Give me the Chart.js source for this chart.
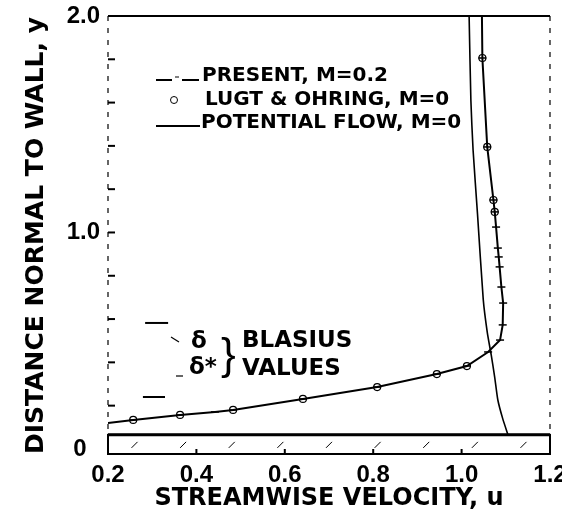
<!DOCTYPE html>
<html>
<head>
<meta charset="utf-8">
<script src="https://cdn.jsdelivr.net/npm/chart.js@4.4.0/dist/chart.umd.min.js"></script>
<style>
  html, body { margin: 0; padding: 0; background: #fff; }
  #wrap { width: 562px; height: 516px; }
</style>
</head>
<body>
<div id="wrap"><canvas id="chart" width="562" height="516"></canvas></div>
<script>
// Present computation, M=0.2 (from the wall side up)
const presentU = [0.2, 0.257, 0.363, 0.442, 0.483, 0.641, 0.809, 0.944, 1.012, 1.06, 1.087, 1.093,
                  1.094, 1.09, 1.086, 1.084, 1.082, 1.078, 1.075, 1.072, 1.058, 1.047, 1.046];
const presentY = [0.12, 0.134, 0.157, 0.171, 0.18, 0.231, 0.286, 0.346, 0.383, 0.448, 0.503, 0.573,
                  0.674, 0.748, 0.841, 0.887, 0.928, 1.025, 1.095, 1.15, 1.395, 1.806, 2.0];

// Lugt & Ohring, M=0
const lugtU = [0.257, 0.363, 0.483, 0.641, 0.809, 0.944, 1.012, 1.075, 1.072, 1.058, 1.047];
const lugtY = [0.134, 0.157, 0.18, 0.231, 0.286, 0.346, 0.383, 1.095, 1.15, 1.395, 1.806];

// Potential flow, M=0
const potentialU = [1.017, 1.021, 1.026, 1.036, 1.049, 1.058, 1.067, 1.075, 1.082, 1.093, 1.105];
const potentialY = [2.0, 1.61, 1.38, 1.085, 0.69, 0.54, 0.434, 0.33, 0.226, 0.14, 0.065];

// Blasius values (delta and delta*)
const blasiusDeltaU = [0.284, 0.336];
const blasiusDelta = 0.582;
const blasiusStarU = [0.279, 0.329];
const blasiusDeltaStar = 0.24;

// wall surface
const wallY = 0.065;

const xTicks = [0.2, 0.4, 0.6, 0.8, 1.0, 1.2];
const yTicks = [0, 0.2, 0.4, 0.6, 0.8, 1.0, 1.2, 1.4, 1.6, 1.8, 2.0];
const yLabelled = [0, 1.0, 2.0];

function pts(us, ys) {
  return us.map((u, i) => ({ x: u, y: ys[i] }));
}

function line(ctx, x1, y1, x2, y2) {
  ctx.beginPath();
  ctx.moveTo(x1, y1);
  ctx.lineTo(x2, y2);
  ctx.stroke();
}

// frame, wall block, inward ticks, legend and the Blasius note
const decor = {
  id: 'decor',
  afterDatasetsDraw(chart) {
    const { ctx, chartArea: a, scales: { x, y } } = chart;
    const yWall = y.getPixelForValue(wallY);
    const yTop = y.getPixelForValue(2.0);
    ctx.save();
    ctx.strokeStyle = '#000';
    ctx.fillStyle = '#000';

    ctx.lineWidth = 2;
    line(ctx, a.left, yTop, a.right, yTop);

    ctx.lineWidth = 1.2;
    ctx.setLineDash([5, 7]);
    line(ctx, a.left, yTop, a.left, yWall);
    line(ctx, a.right, yTop, a.right, yWall);
    ctx.setLineDash([]);

    ctx.lineWidth = 2;
    ctx.strokeRect(a.left, yWall, a.right - a.left, a.bottom - 1 - yWall);

    // hatch marks under the wall
    ctx.lineWidth = 1;
    for (let u = 0.26; u < 1.2; u += 0.11) {
      const px = x.getPixelForValue(u);
      line(ctx, px - 3, yWall + 13, px + 3, yWall + 7);
    }

    // inward ticks
    ctx.lineWidth = 2;
    yTicks.forEach(v => {
      if (v <= wallY || v >= 2.0) return;
      const py = y.getPixelForValue(v);
      line(ctx, a.left, py, a.left + 7, py);
    });
    xTicks.slice(1, -1).forEach(v => {
      const px = x.getPixelForValue(v);
      line(ctx, px, a.bottom - 1, px, a.bottom - 6);
    });

    // legend
    ctx.font = 'bold 20px "DejaVu Sans"';
    ctx.textBaseline = 'middle';
    ctx.textAlign = 'left';
    ctx.lineWidth = 2;
    line(ctx, 156, 80, 172, 80);
    line(ctx, 182, 80, 199, 80);
    ctx.lineWidth = 1;
    line(ctx, 175, 77, 179, 77);
    ctx.fillText('PRESENT, M=0.2', 202, 76);
    ctx.beginPath();
    ctx.arc(174, 100, 3.5, 0, Math.PI * 2);
    ctx.stroke();
    ctx.fillText('LUGT & OHRING, M=0', 205, 100);
    ctx.lineWidth = 2;
    line(ctx, 156, 126, 200, 126);
    ctx.fillText('POTENTIAL FLOW, M=0', 201, 123);

    // Blasius note
    ctx.lineWidth = 1.2;
    line(ctx, 171, 337, 179, 342);
    line(ctx, 176, 376, 183, 376);
    ctx.font = 'bold 23px "DejaVu Sans"';
    ctx.fillText('\u03b4', 191, 342);
    ctx.fillText('\u03b4*', 189, 368);
    ctx.font = '44px "Liberation Sans"';
    ctx.fillText('}', 221, 357);
    ctx.font = 'bold 23px "DejaVu Sans"';
    ctx.fillText('BLASIUS', 242, 341);
    ctx.fillText('VALUES', 242, 369);
    ctx.restore();
  }
};

new Chart(document.getElementById('chart'), {
  type: 'scatter',
  data: {
    datasets: [
      {
        label: 'POTENTIAL FLOW, M=0',
        data: pts(potentialU, potentialY),
        showLine: true,
        borderColor: '#000',
        borderWidth: 1.6,
        pointRadius: 0,
        tension: 0.2
      },
      {
        label: 'PRESENT, M=0.2',
        data: pts(presentU, presentY),
        showLine: true,
        borderColor: '#000',
        backgroundColor: '#000',
        borderWidth: 2,
        pointStyle: 'line',
        pointRadius: presentU.map((u, i) => (i === 0 || i === presentU.length - 1) ? 0 : 4),
        pointBorderWidth: 1.5
      },
      {
        label: 'LUGT & OHRING, M=0',
        data: pts(lugtU, lugtY),
        showLine: false,
        pointStyle: 'circle',
        pointRadius: 3.5,
        pointBackgroundColor: '#fff',
        pointBorderColor: '#000',
        pointBorderWidth: 1.2
      },
      {
        label: 'wall',
        data: pts([0.2, 1.2], [wallY, wallY]),
        showLine: true,
        borderColor: '#000',
        borderWidth: 3,
        pointRadius: 0
      },
      {
        label: 'delta',
        data: pts(blasiusDeltaU, [blasiusDelta, blasiusDelta]),
        showLine: true,
        borderColor: '#000',
        borderWidth: 2,
        pointRadius: 0
      },
      {
        label: 'delta*',
        data: pts(blasiusStarU, [blasiusDeltaStar, blasiusDeltaStar]),
        showLine: true,
        borderColor: '#000',
        borderWidth: 2,
        pointRadius: 0
      }
    ]
  },
  options: {
    responsive: false,
    animation: false,
    devicePixelRatio: 1,
    layout: { padding: { top: 16, right: 12, left: 0, bottom: 0 } },
    plugins: {
      legend: { display: false },
      tooltip: { enabled: false }
    },
    scales: {
      x: {
        type: 'linear',
        min: 0.2,
        max: 1.2,
        afterBuildTicks: s => { s.ticks = xTicks.map(v => ({ value: v })); },
        afterFit: s => { s.height = 61; s.paddingLeft = 0; s.paddingRight = 0; },
        grid: { display: false, drawTicks: false },
        border: { display: false },
        ticks: {
          color: '#000',
          padding: 6,
          autoSkip: false,
          maxRotation: 0,
          font: { family: 'Liberation Sans', weight: 'bold', size: 24 },
          callback: v => v.toFixed(1)
        },
        title: {
          display: true,
          text: 'STREAMWISE VELOCITY, u',
          color: '#000',
          font: { family: 'DejaVu Sans', weight: 'bold', size: 24 },
          padding: { top: 0, bottom: 3 }
        }
      },
      y: {
        type: 'linear',
        min: -0.028,
        max: 2.0,
        afterBuildTicks: s => { s.ticks = yTicks.map(v => ({ value: v })); },
        afterFit: s => { s.width = 108; s.paddingTop = 0; s.paddingBottom = 0; },
        grid: { display: false, drawTicks: false },
        border: { display: false },
        ticks: {
          color: '#000',
          padding: 8,
          autoSkip: false,
          font: { family: 'Liberation Sans', weight: 'bold', size: 24 },
          callback: v => {
            if (!yLabelled.some(t => Math.abs(t - v) < 1e-6)) return '';
            return v === 0 ? '0  ' : v.toFixed(1);
          }
        },
        title: {
          display: true,
          text: 'DISTANCE NORMAL TO WALL, y',
          color: '#000',
          font: { family: 'DejaVu Sans', weight: 'bold', size: 25 },
          padding: { top: 21, bottom: 0 }
        }
      }
    }
  },
  plugins: [decor]
});
</script>
</body>
</html>
